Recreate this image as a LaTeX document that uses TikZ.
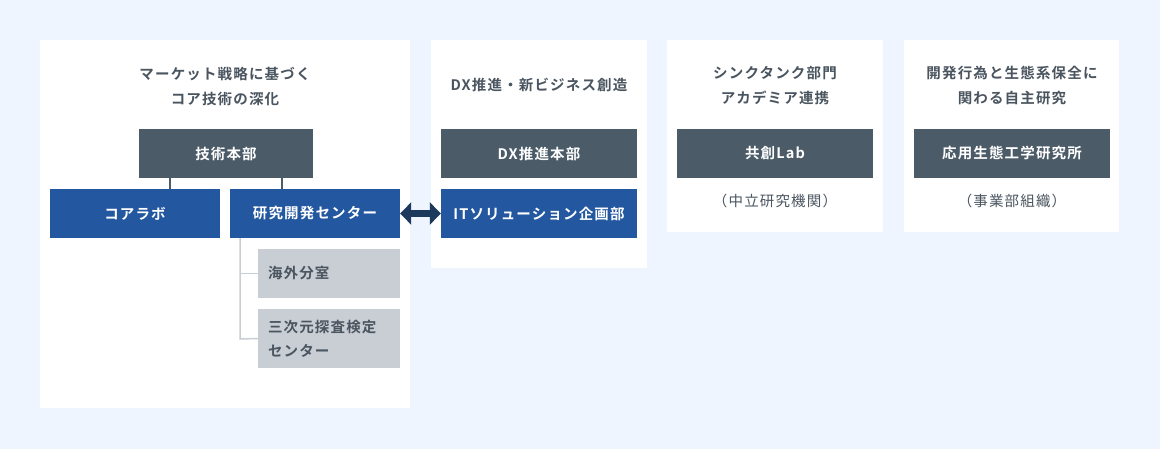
\documentclass[tikz,border=0pt]{standalone}
\usepackage{fontspec}
\setmainfont{Noto Sans CJK JP}[BoldFont={* Bold},LetterSpace=8]
\usetikzlibrary{arrows.meta}
\definecolor{bgblue}{HTML}{EEF5FE}
\definecolor{slate}{HTML}{4B5B68}
\definecolor{corpblue}{HTML}{2358A1}
\definecolor{lightgray}{HTML}{C9CED4}
\definecolor{txtgray}{HTML}{4A5560}
\definecolor{navy}{HTML}{1D3A5C}
\tikzset{
  panel/.style={fill=white,draw=none},
  title/.style={font=\fontsize{14.5}{25}\selectfont\bfseries,text=txtgray,align=center},
  head/.style={fill=slate,text=white,font=\fontsize{14.5}{18}\selectfont\bfseries,minimum height=49pt,inner sep=0pt},
  unit/.style={fill=corpblue,text=white,font=\fontsize{14.5}{18}\selectfont\bfseries,minimum height=49pt,inner sep=0pt},
  sub/.style={fill=lightgray,text=txtgray,font=\fontsize{14.5}{24}\selectfont\bfseries,minimum width=142pt,text width=122pt,align=left,inner sep=0pt},
  note/.style={font=\fontsize{14.5}{18}\selectfont,text=txtgray}
}
\begin{document}
\begin{tikzpicture}[x=1pt,y=-1pt]
  \fill[bgblue] (0,0) rectangle (1160,449);
  % panels
  \fill[panel] (40,40) rectangle (410,408);
  \fill[panel] (431,40) rectangle (647,268);
  \fill[panel] (667,40) rectangle (883,232);
  \fill[panel] (904,40) rectangle (1119,232);
  % panel 1
  \node[title] (t1) at (225,86) {マーケット戦略に基づく\\コア技術の深化};
  \node[head,minimum width=174pt] (hq) at (226,153.5) {技術本部};
  \node[unit,minimum width=170pt] (core) at (135,213.5) {コアラボ};
  \node[unit,minimum width=170pt] (rdc) at (315,213.5) {研究開発センター};
  \node[sub,minimum height=49pt] (ovs) at (329,273.5) {海外分室};
  \node[sub,minimum height=59pt] (tdc) at (329,338.5) {三次元探査検定\\センター};
  \draw[slate,line width=1.5pt] (hq.south -| 170,0) -- (core.north -| 170,0);
  \draw[slate,line width=1.5pt] (hq.south -| 282,0) -- (rdc.north -| 282,0);
  \draw[lightgray,line width=1.5pt] (rdc.south -| 240,0) -- (240,339) -- (tdc.west);
  \draw[lightgray,line width=1.5pt] (240,273.5) -- (ovs.west);
  % panel 2
  \node[title] (t2) at (539,85) {DX推進・新ビジネス創造};
  \node[head,minimum width=196pt] (dxhq) at (539,153.5) {DX推進本部};
  \node[unit,minimum width=196pt] (its) at (539,213.5) {ITソリューション企画部};
  \draw[navy,line width=7pt,{Triangle[length=11pt,width=22pt]}-{Triangle[length=11pt,width=22pt]}] (rdc.east) -- (its.west);
  % panel 3
  \node[title] (t3) at (775,86) {シンクタンク部門\\アカデミア連携};
  \node[head,minimum width=196pt] (lab) at (775,153.5) {共創Lab};
  \node[note] (n3) at (775,201) {（中立研究機関）};
  % panel 4
  \node[title] (t4) at (1012,86) {開発行為と生態系保全に\\関わる自主研究};
  \node[head,minimum width=196pt] (eco) at (1012,153.5) {応用生態工学研究所};
  \node[note] (n4) at (1012,201) {（事業部組織）};
\end{tikzpicture}
\end{document}
